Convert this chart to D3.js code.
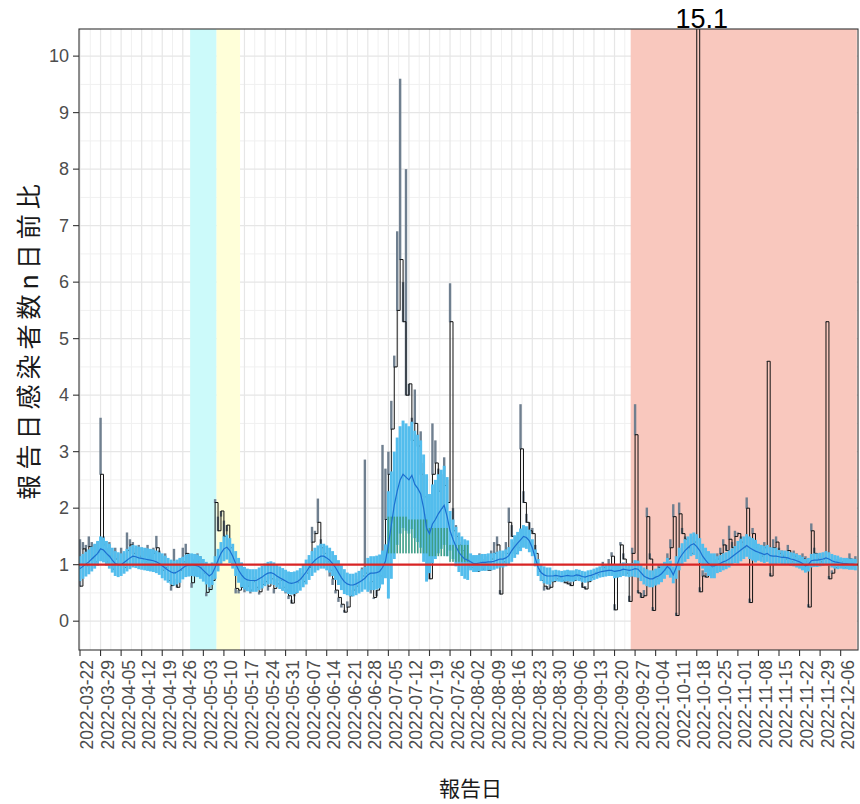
<!DOCTYPE html>
<html>
<head>
<meta charset="utf-8">
<script src="https://cdn.jsdelivr.net/npm/d3@7"></script>
<style>
  body { margin: 0; background: #fff; }
  svg { display: block; }
</style>
</head>
<body>
<script>
// ---- data (one value per report day, starting 2022-03-22) ----
const startDate = "2022-03-22";

// day-over-day ratio (black step line)
const ratio = [
  0.62, 1.28, 0.98, 1.32, 1.12, 1.05, 1.22,
  2.6, 1.35, 1.05, 1.15, 0.92, 1.1, 1.0,
  1.02, 0.95, 1.25, 1.35, 1.2, 1.0, 1.15,
  1.1, 1.05, 1.15, 0.98, 1.2, 1.3, 1.0,
  0.9, 0.95, 0.72, 0.63, 0.85, 0.6, 0.9,
  1.05, 1.2, 0.98, 0.68, 0.9, 1.05, 0.95,
  0.85, 0.51, 0.56, 0.72, 2.1, 1.6, 1.95,
  1.5, 1.7, 1.3, 1.0, 0.58, 0.55, 0.6,
  0.58, 0.62, 0.55, 0.7, 0.6, 0.52, 0.65,
  0.7, 0.62, 0.75, 0.58, 0.66, 0.72, 0.6,
  0.55, 0.45, 0.32, 0.5, 0.68, 0.75, 0.7,
  0.85, 0.95, 1.4, 1.55, 1.75, 1.3, 1.2,
  1.05, 0.9, 0.75, 0.55, 0.42, 0.3, 0.16,
  0.25, 0.45, 0.55, 0.62, 0.7, 0.8, 0.85,
  0.85, 0.7, 0.42, 0.55, 0.8, 1.1, 1.8,
  2.6, 3.4, 4.5, 5.5, 6.4, 5.3, 4.0,
  4.2, 3.2, 3.5, 3.1, 2.6, 2.2, 1.6,
  0.75, 2.6, 2.8, 2.3, 2.0, 2.4, 2.1,
  5.3, 1.6, 1.5, 1.35, 1.25, 1.1, 1.05,
  0.95, 1.0, 0.88, 1.05, 0.92, 1.0, 0.9,
  1.1, 1.2, 1.35, 0.48, 1.05, 1.2, 1.75,
  1.5, 1.2, 1.3, 3.05, 2.1, 1.75, 1.6,
  1.55, 1.2, 0.88, 0.72, 0.62, 0.57, 0.6,
  0.7, 0.75, 0.78, 0.72, 0.68, 0.66, 0.63,
  0.72, 0.8, 0.75, 0.6, 0.57, 0.7, 0.78,
  0.85, 0.82, 0.88, 0.95, 0.9, 1.0, 1.15,
  0.2, 0.9, 1.35, 1.1, 0.85, 0.35, 1.2,
  3.3, 0.5, 0.42, 0.45, 1.85, 1.1, 0.19,
  0.75, 0.95, 0.8, 0.9, 1.1, 1.3, 1.85,
  0.1, 1.9, 1.55, 1.45, 1.3, 1.2, 1.4,
  15.1, 0.52, 0.8, 0.78, 0.9, 0.95, 1.0,
  1.1, 1.2, 1.35, 1.25, 1.45, 1.3, 1.5,
  1.55, 1.4, 1.3, 2.0, 0.33, 1.55, 1.3,
  1.2, 1.15, 1.3, 4.6, 0.8, 1.3, 1.4,
  1.2, 1.15, 1.1, 1.25, 1.05, 1.15, 1.1,
  1.0, 1.1, 1.05, 0.25, 1.6, 1.2, 1.1,
  1.05, 1.1, 5.3, 0.75, 0.85, 0.95, 1.0,
  1.05, 0.95, 1.0, 1.1, 0.98, 1.05
];

// other end of the grey range bar for each day
const ratioOther = [
  1.45, 1.4, 1.35, 1.5, 1.4, 1.35, 1.4,
  3.6, 1.5, 1.3, 1.4, 1.25, 1.3, 1.2,
  1.3, 1.2, 1.57, 1.45, 1.4, 1.3, 1.35,
  1.3, 1.25, 1.35, 1.2, 1.3, 1.51, 1.25,
  1.15, 1.2, 0.85, 0.55, 1.28, 0.75, 1.1,
  1.3, 1.37, 1.2, 0.6, 1.1, 1.2, 1.15,
  0.95, 0.45, 0.62, 1.0, 2.16, 1.85, 1.86,
  1.78, 1.6, 1.45, 1.2, 0.5, 0.5, 0.65,
  0.52, 0.7, 0.5, 0.78, 0.55, 0.48, 0.72,
  0.78, 0.55, 0.85, 0.5, 0.75, 0.8, 0.55,
  0.5, 0.4, 0.38, 0.45, 0.75, 0.85, 0.8,
  0.95, 1.1, 1.67, 1.6, 2.17, 1.45, 1.3,
  1.15, 0.8, 0.65, 0.5, 0.35, 0.25, 0.2,
  0.35, 0.55, 0.65, 0.75, 0.8, 0.95, 2.86,
  0.95, 0.5, 0.4, 0.45, 1.0, 3.12, 2.7,
  3.0, 3.9, 4.7, 6.9, 9.6, 6.0, 8.0,
  4.0, 3.6, 4.1, 3.3, 3.36, 2.8, 1.9,
  0.9, 3.5, 3.2, 2.7, 2.6, 2.9, 2.5,
  5.98, 2.0, 1.7, 1.55, 1.4, 1.25, 1.15,
  1.1, 1.15, 1.05, 1.2, 1.1, 1.15, 1.05,
  1.25, 1.4, 1.5, 0.55, 1.2, 1.4, 2.01,
  1.7, 1.4, 1.5, 3.84, 2.3, 1.9, 1.75,
  1.65, 1.35, 0.95, 0.8, 0.55, 0.62, 0.7,
  0.78, 0.85, 0.82, 0.8, 0.75, 0.72, 0.7,
  0.8, 0.85, 0.82, 0.68, 0.62, 0.78, 0.85,
  0.9, 0.88, 0.95, 1.05, 1.0, 1.1, 1.22,
  0.3, 1.0, 1.4, 1.2, 0.95, 0.45, 1.3,
  3.84, 0.55, 0.5, 0.55, 2.01, 1.2, 0.25,
  0.82, 1.0, 0.9, 1.0, 1.2, 1.45, 2.07,
  0.15, 2.1, 1.65, 1.5, 1.4, 1.3, 1.5,
  15.1, 0.6, 0.9, 0.85, 1.0, 1.0, 1.1,
  1.2, 1.3, 1.45, 1.35, 1.69, 1.4, 1.6,
  1.57, 1.5, 1.4, 2.19, 0.4, 1.65, 1.4,
  1.3, 1.25, 1.4, 4.6, 0.85, 1.45, 1.5,
  1.3, 1.25, 1.2, 1.35, 1.15, 1.25, 1.2,
  1.1, 1.2, 1.15, 0.3, 1.73, 1.3, 1.2,
  1.15, 1.2, 5.3, 0.8, 0.9, 1.05, 1.1,
  1.1, 1.05, 1.1, 1.2, 1.05, 1.15
];

// smoothed ratio (blue line)
const smooth = [
  0.93, 0.97, 1.01, 1.05, 1.1, 1.15, 1.2,
  1.28, 1.26, 1.2, 1.15, 1.08, 1.02, 1.0,
  1.0, 1.04, 1.08, 1.12, 1.15, 1.14, 1.12,
  1.11, 1.1, 1.09, 1.08, 1.07, 1.05, 1.02,
  0.98, 0.94, 0.9, 0.87, 0.85, 0.87, 0.9,
  0.94, 0.98, 0.99, 1.0, 0.99, 0.98, 0.95,
  0.9, 0.85, 0.8, 0.84, 0.95, 1.08, 1.2,
  1.28, 1.31, 1.25, 1.15, 1.02, 0.9, 0.82,
  0.76, 0.73, 0.72, 0.72, 0.72, 0.75, 0.78,
  0.82, 0.85, 0.86, 0.84, 0.8, 0.77, 0.74,
  0.71, 0.68, 0.67, 0.68, 0.7, 0.74, 0.8,
  0.87, 0.95, 1.02, 1.08, 1.12, 1.15, 1.15,
  1.12, 1.08, 1.02, 0.95, 0.86, 0.77, 0.7,
  0.66, 0.64, 0.64, 0.66, 0.69, 0.72, 0.76,
  0.82, 0.85, 0.85, 0.86, 0.88, 0.95, 1.06,
  1.35, 1.7, 2.05, 2.3, 2.5, 2.6, 2.55,
  2.5, 2.58, 2.42, 2.35, 2.25, 2.0, 1.65,
  1.55, 1.72, 1.8, 1.9, 1.98, 2.05, 1.85,
  1.6, 1.45, 1.32, 1.22, 1.15, 1.1, 1.08,
  1.05, 1.02, 1.02, 1.03, 1.04, 1.04, 1.05,
  1.05, 1.06, 1.08, 1.1, 1.1, 1.12, 1.16,
  1.25, 1.32, 1.38, 1.44, 1.5, 1.48, 1.42,
  1.3, 1.12, 0.95, 0.86, 0.82, 0.8, 0.8,
  0.8, 0.81, 0.8, 0.79, 0.8, 0.81, 0.8,
  0.8, 0.82, 0.81, 0.79, 0.78, 0.8, 0.81,
  0.83, 0.85, 0.87, 0.88, 0.89, 0.9, 0.9,
  0.88, 0.89, 0.9, 0.92, 0.91, 0.9, 0.91,
  0.93, 0.92, 0.86, 0.8, 0.77, 0.75, 0.75,
  0.78, 0.8, 0.84, 0.9, 0.97, 0.92, 0.82,
  0.95, 1.1, 1.18, 1.25, 1.3, 1.35, 1.37,
  1.32, 1.25, 1.15, 1.08, 1.02, 0.98, 0.98,
  1.0, 1.02, 1.05, 1.07, 1.1, 1.14, 1.18,
  1.22, 1.26, 1.3, 1.34, 1.3, 1.27, 1.24,
  1.22, 1.2, 1.18, 1.2, 1.16, 1.15, 1.15,
  1.14, 1.13, 1.13, 1.12, 1.1, 1.09, 1.07,
  1.05, 1.02, 0.98, 1.0, 1.07, 1.08, 1.08,
  1.09, 1.1, 1.12, 1.1, 1.07, 1.05, 1.04,
  1.03, 1.02, 1.02, 1.01, 1.01, 1.0
];

// half width of the light blue band, one value per week
const bandHalf = [
  0.22, 0.22, 0.2, 0.2, 0.22, 0.2, 0.2, 0.22, 0.2, 0.2,
  0.2, 0.22, 0.22, 0.2, 0.3, 0.95, 0.95, 0.7, 0.35, 0.15,
  0.15, 0.2, 0.15, 0.1, 0.1, 0.1, 0.12, 0.15, 0.15, 0.2,
  0.22, 0.15, 0.2, 0.15, 0.12, 0.12, 0.12, 0.1
];

// green range, one value per week (null = not drawn)
const greenLo = [
  null, null, null, null, null, null, null, null, null, null,
  null, null, null, null, null, 1.2, 1.2, 1.15, 1.05, null,
  null, null, null, null, null, null, null, null, null, null,
  null, null, null, null, null, null, null, null
];
const greenHi = [
  null, null, null, null, null, null, null, null, null, null,
  null, null, null, null, null, 1.85, 1.8, 1.65, 1.35, null,
  null, null, null, null, null, null, null, null, null, null,
  null, null, null, null, null, null, null, null
];

// highlighted periods
const periodStart = ["2022-04-29", "2022-05-08", "2022-09-26"];
const periodEnd   = ["2022-05-07", "2022-05-15", "2022-12-11"];

const xTicks = [
  "2022-03-22", "2022-03-29", "2022-04-05", "2022-04-12", "2022-04-19", "2022-04-26",
  "2022-05-03", "2022-05-10", "2022-05-17", "2022-05-24", "2022-05-31", "2022-06-07",
  "2022-06-14", "2022-06-21", "2022-06-28", "2022-07-05", "2022-07-12", "2022-07-19",
  "2022-07-26", "2022-08-02", "2022-08-09", "2022-08-16", "2022-08-23", "2022-08-30",
  "2022-09-06", "2022-09-13", "2022-09-20", "2022-09-27", "2022-10-04", "2022-10-11",
  "2022-10-18", "2022-10-25", "2022-11-01", "2022-11-08", "2022-11-15", "2022-11-22",
  "2022-11-29", "2022-12-06"
];
const yTicks = [0, 1, 2, 3, 4, 5, 6, 7, 8, 9, 10];

const xTitle = "報告日";
const yTitle = "報告日感染者数n日前比";

// ---- layout / style ----
const W = 860, H = 804;
const panel = { left: 79, right: 858, top: 29, bottom: 650 };
const periodFill = ["#CCFAFA", "#FFFFD9", "#F9C8BE"];
const DAY = 864e5;
const latin = "'Liberation Sans', Arial, sans-serif";
const cjk = "'Noto Sans CJK JP', sans-serif";

const parse = s => new Date(s + "T00:00:00Z");
const t0 = parse(startDate);
const dates = ratio.map((_, i) => new Date(+t0 + i * DAY));
const week = i => Math.floor(i / 7);

const x = d3.scaleUtc()
  .domain([new Date(+t0 - 0.34 * DAY), new Date(+t0 + 264.9 * DAY)])
  .range([panel.left, panel.right]);
const y = d3.scaleLinear()
  .domain([-0.51, 10.48])
  .range([panel.bottom, panel.top]);

const svg = d3.select("body").append("svg")
  .attr("width", W).attr("height", H);

svg.append("rect").attr("width", W).attr("height", H).attr("fill", "#fff");

svg.append("defs").append("clipPath").attr("id", "clip")
  .append("rect")
  .attr("x", panel.left).attr("y", panel.top)
  .attr("width", panel.right - panel.left)
  .attr("height", panel.bottom - panel.top);

const plot = svg.append("g").attr("clip-path", "url(#clip)");

// grid
const tickDates = xTicks.map(parse);
const minorX = tickDates.map(d => new Date(+d + 3.5 * DAY));
const minorY = d3.range(0, 10).map(v => v + 0.5);

plot.append("g").selectAll("line").data(minorX).join("line")
  .attr("x1", d => x(d)).attr("x2", d => x(d))
  .attr("y1", panel.top).attr("y2", panel.bottom)
  .attr("stroke", "#F0F0F0").attr("stroke-width", 1);
plot.append("g").selectAll("line").data(minorY).join("line")
  .attr("x1", panel.left).attr("x2", panel.right)
  .attr("y1", d => y(d)).attr("y2", d => y(d))
  .attr("stroke", "#F0F0F0").attr("stroke-width", 1);
plot.append("g").selectAll("line").data(tickDates).join("line")
  .attr("x1", d => x(d)).attr("x2", d => x(d))
  .attr("y1", panel.top).attr("y2", panel.bottom)
  .attr("stroke", "#E6E6E6").attr("stroke-width", 1.2);
plot.append("g").selectAll("line").data(yTicks).join("line")
  .attr("x1", panel.left).attr("x2", panel.right)
  .attr("y1", d => y(d)).attr("y2", d => y(d))
  .attr("stroke", "#E6E6E6").attr("stroke-width", 1.2);

// shaded periods
plot.append("g").selectAll("rect").data(periodStart).join("rect")
  .attr("x", d => x(new Date(+parse(d) - 0.5 * DAY)))
  .attr("width", (d, i) => x(new Date(+parse(periodEnd[i]) + 0.5 * DAY)) - x(new Date(+parse(d) - 0.5 * DAY)))
  .attr("y", panel.top).attr("height", panel.bottom - panel.top)
  .attr("fill", (d, i) => periodFill[i]);

// grey range bars
plot.append("g").selectAll("rect").data(ratio).join("rect")
  .attr("x", (d, i) => x(dates[i]) - 1.2)
  .attr("width", 2.4)
  .attr("y", (d, i) => y(Math.max(d, ratioOther[i])))
  .attr("height", (d, i) => Math.abs(y(d) - y(ratioOther[i])) + 0.5)
  .attr("fill", "#6F7F8F");

// black step line
plot.append("path")
  .datum(ratio)
  .attr("fill", "none").attr("stroke", "#111").attr("stroke-width", 1)
  .attr("d", d3.line().curve(d3.curveStepAfter)
    .x((d, i) => x(dates[i])).y(d => y(d)));

// light blue band
const dayW = x(new Date(+t0 + DAY)) - x(t0);
plot.append("g").selectAll("rect").data(smooth).join("rect")
  .attr("x", (d, i) => x(dates[i]) - dayW / 2)
  .attr("width", dayW)
  .attr("y", (d, i) => y(d + bandHalf[week(i)]))
  .attr("height", (d, i) => y(d - bandHalf[week(i)]) - y(d + bandHalf[week(i)]))
  .attr("fill", "#53BDED");

// green range (narrow bars, so the blue band shows in between)
const greenDays = dates.map((d, i) => i).filter(i => greenLo[week(i)] != null);
plot.append("g").selectAll("rect").data(greenDays).join("rect")
  .attr("x", i => x(dates[i]) - 0.8)
  .attr("width", 1.6)
  .attr("y", i => y(greenHi[week(i)]))
  .attr("height", i => y(greenLo[week(i)]) - y(greenHi[week(i)]))
  .attr("fill", "#3E9E87");

// blue smoothed line
plot.append("path")
  .datum(smooth)
  .attr("fill", "none").attr("stroke", "#1C6FD0").attr("stroke-width", 1.2)
  .attr("d", d3.line().x((d, i) => x(dates[i])).y(d => y(d)));

// reference line at 1
plot.append("line")
  .attr("x1", panel.left).attr("x2", panel.right)
  .attr("y1", y(1)).attr("y2", y(1))
  .attr("stroke", "#D82424").attr("stroke-width", 2.2);

// panel border
svg.append("rect")
  .attr("x", panel.left).attr("y", panel.top)
  .attr("width", panel.right - panel.left)
  .attr("height", panel.bottom - panel.top)
  .attr("fill", "none").attr("stroke", "#333").attr("stroke-width", 1.1);

// y axis
const yAxis = svg.append("g");
yAxis.selectAll("line").data(yTicks).join("line")
  .attr("x1", panel.left - 6).attr("x2", panel.left)
  .attr("y1", d => y(d)).attr("y2", d => y(d))
  .attr("stroke", "#333").attr("stroke-width", 1.1);
yAxis.selectAll("text").data(yTicks).join("text")
  .attr("x", panel.left - 10).attr("y", d => y(d))
  .attr("text-anchor", "end").attr("dominant-baseline", "central")
  .attr("font-family", latin).attr("font-size", 18).attr("fill", "#4D4D4D")
  .text(d => d);

// x axis
const xAxis = svg.append("g");
xAxis.selectAll("line").data(tickDates).join("line")
  .attr("x1", d => x(d)).attr("x2", d => x(d))
  .attr("y1", panel.bottom).attr("y2", panel.bottom + 6)
  .attr("stroke", "#333").attr("stroke-width", 1.1);
xAxis.selectAll("text").data(xTicks).join("text")
  .attr("transform", (d, i) => `translate(${x(tickDates[i]) + 13.5},${panel.bottom + 10}) rotate(-90)`)
  .attr("text-anchor", "end")
  .attr("font-family", latin).attr("font-size", 17.5).attr("fill", "#4D4D4D")
  .text(d => d);

// axis titles
svg.append("text")
  .attr("x", (panel.left + panel.right) / 2 + 2).attr("y", 796)
  .attr("text-anchor", "middle")
  .attr("font-family", cjk).attr("font-size", 21).attr("fill", "#1a1a1a")
  .text(xTitle);
svg.append("text")
  .attr("transform", `translate(27,${(panel.top + panel.bottom) / 2}) rotate(-90)`)
  .attr("text-anchor", "middle").attr("dominant-baseline", "central")
  .attr("font-family", cjk).attr("font-size", 25).attr("letter-spacing", 5)
  .attr("fill", "#1a1a1a")
  .text(yTitle);

// label for the clipped maximum
const iMax = d3.maxIndex(ratio);
svg.append("text")
  .attr("x", x(dates[iMax]) + 5).attr("y", panel.top - 1)
  .attr("text-anchor", "middle")
  .attr("font-family", latin).attr("font-size", 27).attr("fill", "#000")
  .text(d3.format(".1f")(ratio[iMax]));
</script>
</body>
</html>
